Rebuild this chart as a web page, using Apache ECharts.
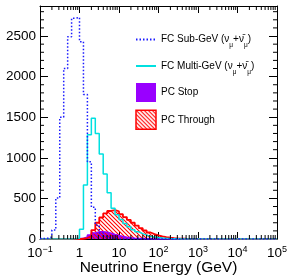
<!DOCTYPE html>
<html>
<head>
<meta charset="utf-8">
<script src="https://cdn.jsdelivr.net/npm/echarts@6/dist/echarts.min.js"></script>
<style>
  html, body { margin: 0; padding: 0; background: #fff; }
  #main { width: 287px; height: 278px; }
</style>
</head>
<body>
<div id="main"></div>
<script>
// binning: 10 bins per decade in log10(E), E from 0.1 to 1e5 GeV
const logMin = -1;
const binWidth = 0.1;
const yMax = 2870;

// events per bin
const subGeV = [5, 10, 25, 110, 505, 1500, 2100, 2490, 2720, 2730,
  2430, 1780, 950, 390, 170, 75, 30, 10, 4, 1,
  0, 0, 0, 0, 0, 0, 0, 0, 0, 0,
  0, 0, 0, 0, 0, 0, 0, 0, 0, 0,
  0, 0, 0, 0, 0, 0, 0, 0, 0, 0,
  0, 0, 0, 0, 0, 0, 0, 0, 0, 0];
const multiGeV = [0, 0, 0, 0, 0, 0, 0, 0, 2, 10,
  120, 665, 1285, 1486, 1300, 1047, 800, 570, 378, 300,
  240, 190, 150, 115, 88, 66, 48, 35, 25, 18,
  12, 8, 5, 3, 2, 1, 0, 0, 0, 0,
  0, 0, 0, 0, 0, 0, 0, 0, 0, 0,
  0, 0, 0, 0, 0, 0, 0, 0, 0, 0];
const pcStop = [0, 0, 0, 0, 0, 0, 0, 0, 0, 2,
  8, 25, 50, 75, 88, 90, 82, 70, 55, 42,
  30, 22, 15, 10, 7, 5, 3, 2, 1, 0,
  0, 0, 0, 0, 0, 0, 0, 0, 0, 0,
  0, 0, 0, 0, 0, 0, 0, 0, 0, 0,
  0, 0, 0, 0, 0, 0, 0, 0, 0, 0];
const pcThrough = [0, 0, 0, 0, 0, 0, 0, 0, 0, 0,
  3, 12, 35, 110, 200, 265, 315, 345, 357, 340,
  305, 270, 235, 200, 165, 135, 105, 80, 60, 44,
  32, 23, 16, 11, 7, 5, 3, 2, 1, 0,
  0, 0, 0, 0, 0, 0, 0, 0, 0, 0,
  0, 0, 0, 0, 0, 0, 0, 0, 0, 0];

const nubar = '\u03bd\u0304';
const legendText = {
  'FC Sub-GeV': 'FC Sub-GeV (\u03bd{s|\u03bc}+' + nubar + '{s|\u03bc})',
  'FC Multi-GeV': 'FC Multi-GeV (\u03bd{s|\u03bc}+' + nubar + '{s|\u03bc})',
  'PC Stop': 'PC Stop',
  'PC Through': 'PC Through'
};

const font = '"Liberation Sans", Arial, sans-serif';

function stepPoints(values) {
  const pts = values.map((v, k) => [+(logMin + k * binWidth).toFixed(2), v]);
  pts.push([+(logMin + values.length * binWidth).toFixed(2), values[values.length - 1]]);
  return pts;
}

function makeHatch() {
  const c = document.createElement('canvas');
  c.width = 4;
  c.height = 4;
  const ctx = c.getContext('2d');
  ctx.strokeStyle = '#ff0000';
  ctx.lineWidth = 1.1;
  ctx.beginPath();
  ctx.moveTo(-1, -1); ctx.lineTo(5, 5);
  ctx.moveTo(-1, 3); ctx.lineTo(1, 5);
  ctx.moveTo(3, -1); ctx.lineTo(5, 1);
  ctx.stroke();
  return c;
}
const hatch = { image: makeHatch(), repeat: 'repeat' };

// log minor ticks (2..9 in each decade)
const xMinor = [];
for (let d = -1; d < 5; d++) {
  for (let m = 2; m <= 9; m++) xMinor.push([d + Math.log10(m), 0]);
}
const yMinor = [];
for (let v = 100; v < yMax; v += 100) {
  if (v % 500 !== 0) yMinor.push([logMin, v]);
}

function supLabel(v) {
  if (v === 0) return '{b|1}';
  if (v === 1) return '{b|10}';
  return '{b|10}{p|' + (v < 0 ? '\u2212' + (-v) : v) + '}';
}

const noMarker = { color: 'rgba(0,0,0,0)', borderWidth: 0 };

const chart = echarts.init(document.getElementById('main'));

const option = {
  animation: false,
  backgroundColor: '#fff',
  grid: { left: 40, right: 10, top: 6, bottom: 39, outerBoundsMode: 'none', containLabel: false },
  legend: {
    orient: 'vertical',
    left: 135,
    top: 30,
    padding: 0,
    itemWidth: 20,
    itemHeight: 19,
    itemGap: 7.5,
    selectedMode: false,
    data: [
      { name: 'FC Sub-GeV', itemStyle: noMarker },
      { name: 'FC Multi-GeV', itemStyle: noMarker },
      { name: 'PC Stop', icon: 'rect' },
      { name: 'PC Through', icon: 'rect', itemStyle: { color: hatch, borderColor: '#ff0000', borderWidth: 1.5 } }
    ],
    formatter: name => legendText[name],
    textStyle: {
      fontFamily: font, fontSize: 10, color: '#000', lineHeight: 19,
      rich: { s: { fontFamily: font, fontSize: 6.5, color: '#000', verticalAlign: 'bottom', lineHeight: 13 } }
    }
  },
  xAxis: [
    {
      type: 'value', min: -1, max: 5, interval: 1, position: 'bottom',
      axisLine: { show: true, onZero: false, lineStyle: { color: '#000', width: 1 } },
      axisTick: { show: true, inside: true, length: 7, lineStyle: { color: '#000' } },
      splitLine: { show: false },
      axisLabel: {
        margin: 6, showMinLabel: true, showMaxLabel: true, formatter: supLabel,
        rich: {
          b: { fontFamily: font, fontSize: 13.5, color: '#000', lineHeight: 16 },
          p: { fontFamily: font, fontSize: 9, color: '#000', verticalAlign: 'top', lineHeight: 9 }
        }
      },
      name: 'Neutrino Energy (GeV)', nameLocation: 'middle', nameGap: 21, nameMoveOverlap: false,
      nameTextStyle: { fontFamily: font, fontSize: 15.5, color: '#000' }
    },
    {
      type: 'value', min: -1, max: 5, interval: 1, position: 'top',
      axisLine: { show: true, onZero: false, lineStyle: { color: '#000', width: 1 } },
      axisTick: { show: true, inside: true, length: 7, lineStyle: { color: '#000' } },
      axisLabel: { show: false },
      splitLine: { show: false }
    }
  ],
  yAxis: [
    {
      type: 'value', min: 0, max: yMax, interval: 500, position: 'left',
      axisLine: { show: true, onZero: false, lineStyle: { color: '#000', width: 1 } },
      axisTick: { show: true, inside: true, length: 8, lineStyle: { color: '#000' } },
      splitLine: { show: false },
      axisLabel: {
        margin: 4, showMaxLabel: false, fontFamily: font, fontSize: 13.5, color: '#000',
        formatter: v => String(v)
      }
    },
    {
      type: 'value', min: 0, max: yMax, interval: 500, position: 'right',
      axisLine: { show: true, onZero: false, lineStyle: { color: '#000', width: 1 } },
      axisTick: { show: true, inside: true, length: 8, lineStyle: { color: '#000' } },
      axisLabel: { show: false },
      splitLine: { show: false }
    }
  ],
  series: [
    {
      name: 'PC Stop', type: 'line', step: 'end', symbol: 'none',
      data: stepPoints(pcStop),
      itemStyle: { color: '#9900ff' },
      lineStyle: { color: '#9900ff', width: 1.5 },
      areaStyle: { color: '#9900ff', opacity: 1 }
    },
    {
      name: 'PC Through', type: 'line', step: 'end', symbol: 'none',
      data: stepPoints(pcThrough),
      itemStyle: { color: '#ff0000' },
      lineStyle: { color: '#ff0000', width: 1.8 },
      areaStyle: { color: hatch, opacity: 1 }
    },
    {
      name: 'FC Multi-GeV', type: 'line', step: 'end', symbol: 'none',
      data: stepPoints(multiGeV),
      itemStyle: { color: '#00e0e0' },
      lineStyle: { color: '#00e0e0', width: 1.5 }
    },
    {
      name: 'FC Sub-GeV', type: 'line', step: 'end', symbol: 'none',
      data: stepPoints(subGeV),
      itemStyle: { color: '#1a1aff' },
      lineStyle: { color: '#1a1aff', width: 1.5, type: [1.5, 2] }
    },
    {
      name: 'xMinor', type: 'custom', data: xMinor, silent: true, z: 5,
      renderItem: (params, api) => {
        const x = api.coord([api.value(0), 0])[0];
        const top = params.coordSys.y;
        const bot = top + params.coordSys.height;
        return {
          type: 'group', children: [
            { type: 'line', shape: { x1: x, y1: bot, x2: x, y2: bot - 4 }, style: { stroke: '#000', lineWidth: 1 } },
            { type: 'line', shape: { x1: x, y1: top, x2: x, y2: top + 4 }, style: { stroke: '#000', lineWidth: 1 } }
          ]
        };
      }
    },
    {
      name: 'yMinor', type: 'custom', data: yMinor, silent: true, z: 5,
      renderItem: (params, api) => {
        const y = api.coord([logMin, api.value(1)])[1];
        const left = params.coordSys.x;
        const right = left + params.coordSys.width;
        return {
          type: 'group', children: [
            { type: 'line', shape: { x1: left, y1: y, x2: left + 4, y2: y }, style: { stroke: '#000', lineWidth: 1 } },
            { type: 'line', shape: { x1: right, y1: y, x2: right - 4, y2: y }, style: { stroke: '#000', lineWidth: 1 } }
          ]
        };
      }
    }
  ]
};

chart.setOption(option);
</script>
</body>
</html>
